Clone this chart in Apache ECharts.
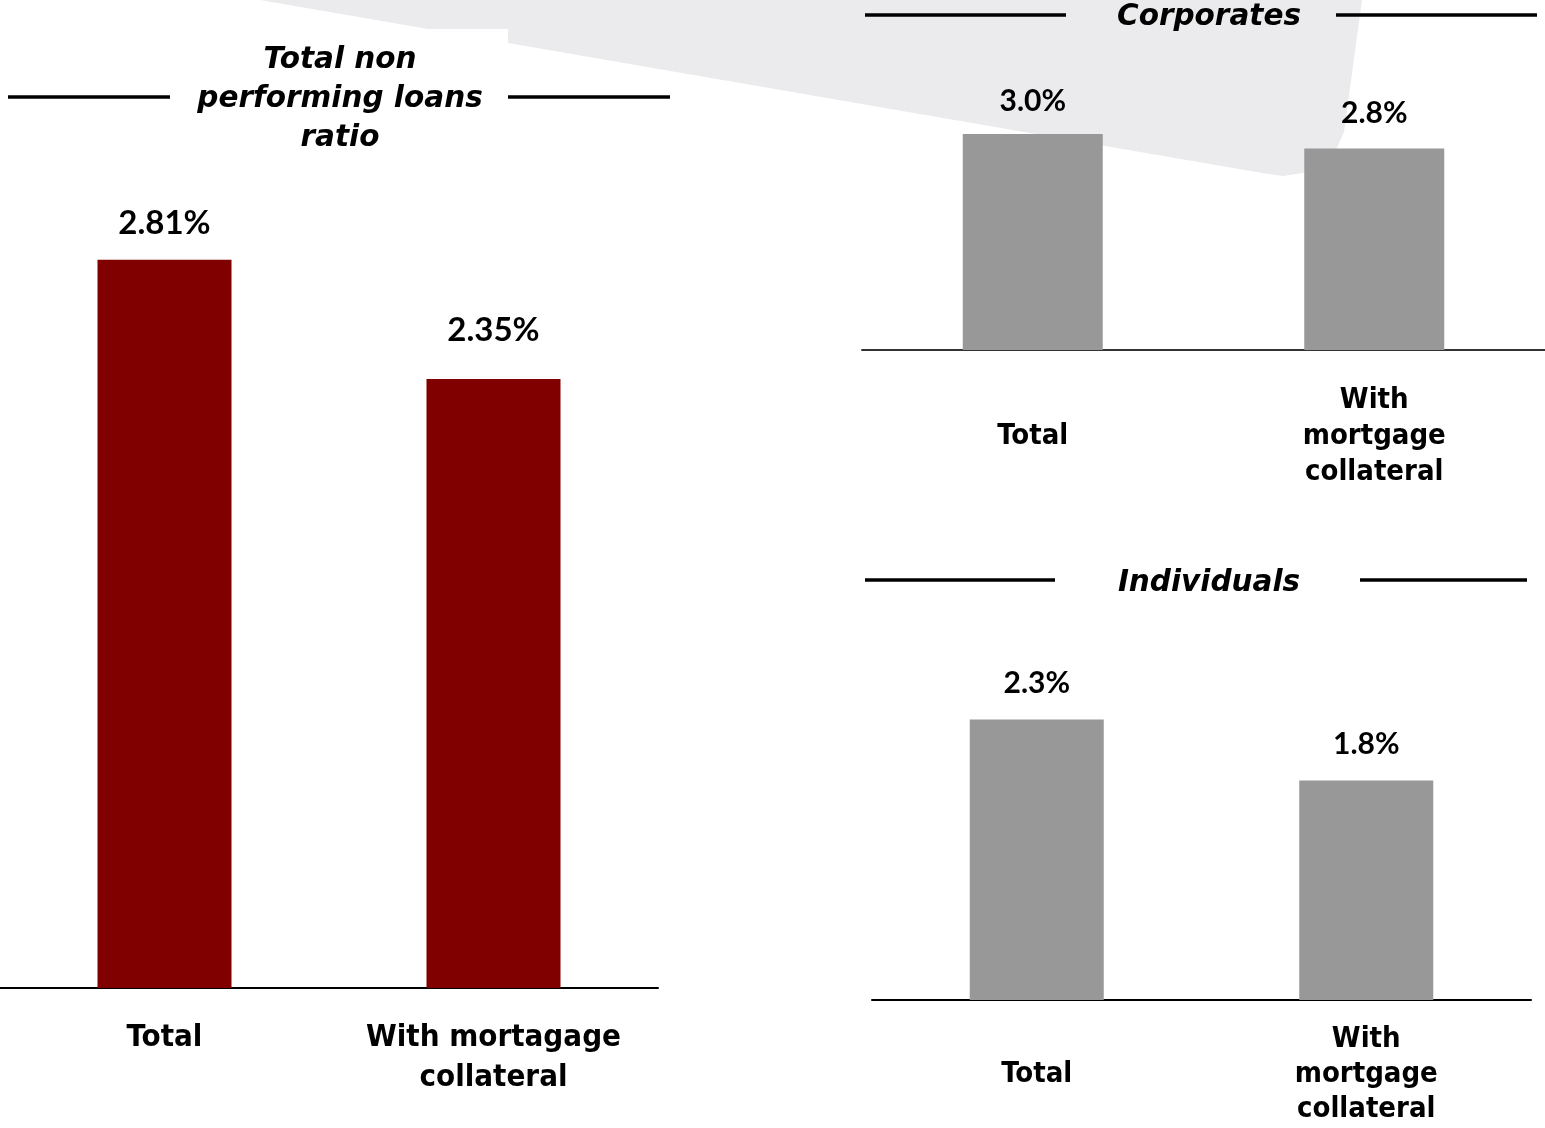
<!DOCTYPE html>
<html>
<head>
<meta charset="utf-8">
<style>
  html, body { margin: 0; padding: 0; background: #ffffff; }
  #chart { width: 1545px; height: 1128px; }
</style>
<script src="https://cdn.jsdelivr.net/npm/echarts@6/dist/echarts.min.js"></script>
</head>
<body>
<div id="chart"></div>
<script>
// Non performing loans ratios (%)
const totalTitle = 'Total non\nperforming loans\nratio';
const totalCategories = ['Total', 'With mortagage\ncollateral'];
const totalValues = [2.81, 2.35];

const corporatesTitle = 'Corporates';
const corporatesCategories = ['Total', 'With\nmortgage\ncollateral'];
const corporatesValues = [3.0, 2.8];

const individualsTitle = 'Individuals';
const individualsCategories = ['Total', 'With\nmortgage\ncollateral'];
const individualsValues = [2.3, 1.8];

const FONT = 'Lato, "Open Sans", sans-serif';
const WIDE_FONT = '"DejaVu Sans Condensed", "DejaVu Sans", sans-serif';
const TITLE_FONT = '"DejaVu Sans", sans-serif';
const MAROON = '#800000';
const GREY = '#989898';

const chart = echarts.init(document.getElementById('chart'), null, { renderer: 'canvas' });

function categoryAxis(gridIndex, categories, labelCfg, lineColor) {
  return {
    type: 'category',
    gridIndex: gridIndex,
    data: categories,
    axisTick: { show: false },
    axisLine: { show: true, lineStyle: { color: lineColor, width: 2 } },
    axisLabel: Object.assign({
      color: '#000',
      fontFamily: WIDE_FONT,
      fontWeight: 'bold',
      interval: 0
    }, labelCfg)
  };
}

function barSeries(idx, values, color, width, digits, fontSize, gaps) {
  return {
    type: 'bar',
    xAxisIndex: idx,
    yAxisIndex: idx,
    barWidth: width,
    itemStyle: { color: color },
    data: values.map((v, i) => ({
      value: v,
      label: { distance: gaps[i] }
    })),
    label: {
      show: true,
      position: 'top',
      color: '#000',
      fontFamily: FONT,
      fontWeight: 'bold',
      fontSize: fontSize,
      formatter: p => p.value.toFixed(digits) + '%'
    },
    silent: true,
    animation: false
  };
}

const leftX = categoryAxis(0, totalCategories,
  { fontSize: 31, lineHeight: 40, verticalAlign: 'top', margin: 30 }, '#000');
const topX = categoryAxis(1, corporatesCategories,
  { fontSize: 29, lineHeight: 36, verticalAlign: 'middle', margin: 86 }, '#333');
const bottomX = categoryAxis(2, individualsCategories,
  { fontSize: 29, lineHeight: 35, verticalAlign: 'middle', margin: 74 }, '#000');

function hiddenY(idx, max) {
  return { type: 'value', gridIndex: idx, min: 0, max: max, show: false, splitLine: { show: false } };
}

function titleText(text, x, y) {
  return {
    type: 'text',
    x: x, y: y,
    z: 10,
    style: {
      text: text,
      fill: '#000',
      font: 'italic bold 29.5px ' + TITLE_FONT,
      lineHeight: 39,
      align: 'center',
      verticalAlign: 'middle'
    },
    silent: true
  };
}

function rule(x1, x2, y) {
  return {
    type: 'line',
    z: 10,
    shape: { x1: x1, y1: y, x2: x2, y2: y },
    style: { stroke: '#000', lineWidth: 3.5 },
    silent: true
  };
}

const option = {
  backgroundColor: '#ffffff',
  animation: false,
  grid: [
    { left: 0, width: 658, top: 210.4, bottom: 140, containLabel: false },
    { left: 862, right: 0, top: 98, bottom: 778, containLabel: false },
    { left: 872, width: 659, top: 695, bottom: 128, containLabel: false }
  ],
  xAxis: [leftX, topX, bottomX],
  yAxis: [hiddenY(0, 3), hiddenY(1, 3.5), hiddenY(2, 2.5)],
  series: [
    barSeries(0, totalValues, MAROON, 134, 2, 33, [20, 32]),
    barSeries(1, corporatesValues, GREY, 140, 1, 30, [18, 20]),
    barSeries(2, individualsValues, GREY, 134, 1, 30, [21, 21])
  ],
  graphic: [
    {
      type: 'polygon',
      z: -10,
      shape: {
        points: [
          [260, 0], [428, 29], [508, 29], [508, 43],
          [1262, 173], [1283, 176], [1303, 173], [1322, 164],
          [1336, 150], [1344, 132], [1362, 0]
        ]
      },
      style: { fill: '#ebebed' },
      silent: true
    },
    titleText(totalTitle, 340, 99.5),
    rule(8, 170, 97),
    rule(508, 670, 97),
    titleText(corporatesTitle, 1209, 17),
    rule(865, 1066, 15),
    rule(1336, 1537, 15),
    titleText(individualsTitle, 1209, 583.5),
    rule(865, 1055, 580),
    rule(1360, 1527, 580)
  ]
};

chart.setOption(option);
</script>
</body>
</html>
